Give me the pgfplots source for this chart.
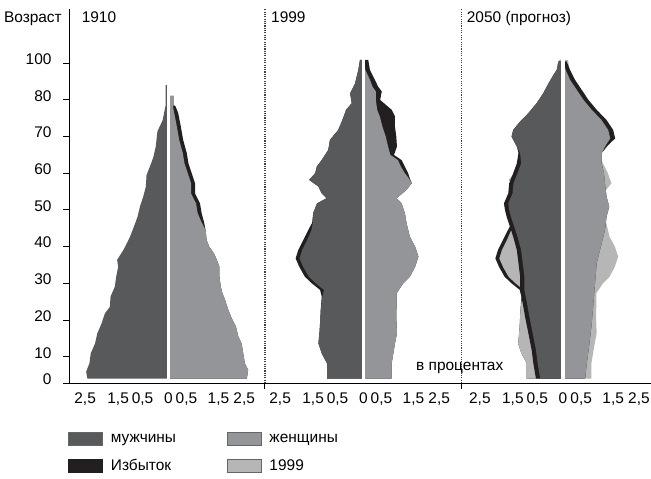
\documentclass[border=0pt]{standalone}
\usepackage{fontspec}
\setmainfont{Liberation Sans}
\usepackage{pgfplots}
\usepackage{pgfplotstable}
\pgfplotsset{compat=1.18}
\definecolor{male}{RGB}{88,89,91}
\definecolor{female}{RGB}{147,149,152}
\definecolor{surplus}{RGB}{35,31,32}
\definecolor{old}{RGB}{182,182,182}
\newcommand{\fs}{\fontsize{15.5}{18}\selectfont}

% 1910 men (share of population, %, by age position)
\pgfplotstableread{
a o
4.0 0
4.0 2.45
5.9 2.49
8.2 2.39
10.9 2.35
13.6 2.22
16.4 2.15
19.1 2.02
21.8 1.92
23.6 1.77
26.4 1.75
29.1 1.62
31.8 1.58
34.5 1.52
36.4 1.55
39.1 1.36
40.9 1.26
42.7 1.16
45.5 1.04
48.2 0.93
50.9 0.86
53.6 0.76
56.4 0.68
59.5 0.66
62.7 0.52
64.5 0.45
67.3 0.38
71.4 0.33
74.5 0.17
78.2 0.09
78.3 0.08
84.1 0.08
84.1 0
}\mA
% 1910 women: o = outer (with surplus), i = inner
\pgfplotstableread{
a o i
4.0 0 0
4.0 2.38 2.38
6.4 2.42 2.42
8.2 2.32 2.32
10.9 2.27 2.27
13.6 2.22 2.22
15.5 2.12 2.12
18.2 2.05 2.05
20.5 1.92 1.92
22.7 1.82 1.82
25.5 1.72 1.72
27.3 1.64 1.64
29.1 1.59 1.59
31.8 1.55 1.55
34.5 1.55 1.55
36.4 1.47 1.47
38.2 1.38 1.38
40.0 1.24 1.24
41.8 1.16 1.16
44.5 1.13 1.13
46.8 1.08 1.00
49.1 1.01 0.89
51.8 0.96 0.84
54.5 0.81 0.69
57.3 0.81 0.69
60.0 0.71 0.59
62.7 0.61 0.49
65.5 0.56 0.44
69.1 0.45 0.33
72.7 0.38 0.26
76.4 0.30 0.18
78.2 0.22 0.14
78.6 0.17 0.17
81.1 0.17 0.17
81.1 0 0
}\fA
% 1999 men
\pgfplotstableread{
a o i
4.0 0 0
4.0 1.10 1.10
8.2 1.10 1.10
10.9 1.26 1.26
13.6 1.36 1.36
16.4 1.33 1.33
19.1 1.31 1.31
22.7 1.29 1.29
26.4 1.26 1.24
28.2 1.31 1.19
30.0 1.56 1.44
31.8 1.77 1.65
34.5 1.94 1.82
36.8 2.05 1.93
39.1 1.97 1.85
41.8 1.82 1.70
44.5 1.67 1.57
46.5 1.55 1.53
49.1 1.52 1.52
51.8 1.40 1.40
53.2 1.11 1.11
54.5 1.26 1.26
56.4 1.36 1.36
58.2 1.64 1.64
60.0 1.46 1.46
61.8 1.41 1.41
63.6 1.26 1.26
66.4 1.06 1.06
69.1 1.01 1.01
71.8 0.76 0.76
74.6 0.63 0.63
77.3 0.52 0.52
79.1 0.35 0.35
81.8 0.40 0.40
84.5 0.25 0.25
88.2 0.15 0.15
90.9 0.10 0.10
90.9 0 0
}\mB
% 1999 women
\pgfplotstableread{
a o i
4.0 0 0
4.0 0.86 0.86
8.2 0.86 0.86
10.9 0.91 0.91
13.6 0.96 0.96
16.4 1.02 1.02
20.9 1.00 1.00
24.5 1.01 1.01
27.3 1.01 1.01
30.0 1.21 1.21
31.8 1.41 1.41
34.5 1.57 1.57
37.3 1.67 1.67
40.0 1.57 1.57
42.7 1.41 1.41
46.4 1.31 1.31
49.1 1.26 1.26
51.8 1.16 1.16
53.2 1.01 1.01
55.5 1.31 1.31
57.3 1.47 1.47
58.6 1.41 1.38
60.0 1.36 1.26
61.8 1.26 1.14
63.6 1.16 1.05
65.0 0.93 0.82
67.3 1.02 0.75
70.0 1.00 0.68
72.7 0.96 0.58
75.5 0.96 0.50
77.3 0.86 0.42
80.0 0.51 0.38
82.3 0.56 0.38
83.6 0.45 0.28
85.5 0.35 0.20
88.2 0.20 0.06
90.9 0.15 0.03
90.9 0 0
}\fB
% 2050 men
\pgfplotstableread{
a o i
4.0 0 0
4.0 0.82 0.69
8.2 0.90 0.77
11.8 0.95 0.82
16.4 1.05 0.92
20.9 1.15 1.02
24.5 1.22 1.09
28.2 1.30 1.17
31.8 1.30 1.17
35.5 1.35 1.22
39.1 1.40 1.27
42.7 1.51 1.38
45.5 1.61 1.48
48.2 1.71 1.58
50.0 1.76 1.63
51.8 1.79 1.66
54.5 1.66 1.53
57.3 1.63 1.50
60.0 1.51 1.38
62.7 1.40 1.27
65.5 1.35 1.30
67.3 1.40 1.40
70.0 1.56 1.56
71.8 1.51 1.51
74.1 1.30 1.30
76.4 1.05 1.05
79.1 0.80 0.80
81.8 0.60 0.60
84.5 0.44 0.44
86.8 0.29 0.29
88.2 0.19 0.19
90.5 0.14 0.14
90.5 0 0
}\mC
% 2050 women
\pgfplotstableread{
a o i
4.0 0 0
4.0 0.67 0.67
8.2 0.72 0.72
13.6 0.80 0.80
19.1 0.87 0.87
24.5 0.92 0.92
30.0 0.97 0.97
35.5 1.02 1.02
40.9 1.17 1.17
44.5 1.27 1.27
48.2 1.32 1.32
50.9 1.40 1.40
53.6 1.32 1.32
57.3 1.27 1.27
60.0 1.24 1.24
62.7 1.17 1.17
65.5 1.17 1.17
67.7 1.37 1.30
69.5 1.58 1.43
71.8 1.52 1.37
74.5 1.32 1.17
77.3 1.02 0.87
80.0 0.77 0.62
82.7 0.57 0.42
85.5 0.36 0.21
88.2 0.21 0.08
90.5 0.11 0.02
90.5 0 0
}\fC

\begin{document}
\begin{tikzpicture}
\path[use as bounding box] (0,0) rectangle (651bp,479bp);
\begin{axis}[
  at={(69bp,96bp)}, anchor=south west,
  scale only axis, width=582bp, height=373.7bp,
  xmin=-3.009, xmax=14.627, ymin=2.83, ymax=104.7,
  enlargelimits=false, clip=false,
  axis lines*=left,
  axis line style={line width=1bp, black},
  xtick={-2.52,-1.52,-0.78,0,0.55,1.52,2.30,
         3.389,4.389,5.129,5.909,6.459,7.429,8.209,
         9.441,10.441,11.181,11.961,12.511,13.481,14.261},
  xticklabels={{2,5},{1,5},{0,5},0,{0,5},{1,5},{2,5},
               {2,5},{1,5},{0,5},0,{0,5},{1,5},{2,5},
               {2,5},{1,5},{0,5},0,{0,5},{1,5},{2,5}},
  ytick={2.83,10,20,30,40,50,60,70,80,90},
  yticklabels={0,10,20,30,40,50,60,70,80,100},
  xtick style={draw=none},
  ytick style={line width=1bp, black},
  tick align=outside, major tick length=6bp,
  ticklabel style={font=\fs},
  yticklabel style={yshift=4bp, xshift=-8bp},
  legend columns=2, legend cell align=left,
  legend image code/.code={\draw[#1, line width=0.6bp] (0bp,-6.5bp) rectangle (34bp,6.5bp);},
  legend style={draw=none, fill=none, inner sep=0pt, outer sep=0pt,
    at={(-0.0012,-0.1303)}, anchor=north west, row sep=14bp,
    nodes={inner sep=0pt, text width=116bp, text height=10.5bp, text depth=2.5bp, font=\fs},
    /tikz/every odd column/.append style={column sep=8bp}},
]
\addlegendimage{fill=male, draw=black!60}\addlegendentry{мужчины}
\addlegendimage{fill=female, draw=black!60}\addlegendentry{женщины}
\addlegendimage{fill=surplus, draw=surplus}\addlegendentry{Избыток}
\addlegendimage{fill=old, draw=black!60}\addlegendentry{1999}

% ---- 1910
\addplot[fill=male, draw=none, forget plot] table[x expr=-\thisrow{o}, y=a] {\mA};
\addplot[fill=surplus, draw=none, forget plot] table[x expr=\thisrow{o}, y=a] {\fA};
\addplot[fill=female, draw=none, forget plot] table[x expr=\thisrow{i}, y=a] {\fA};
\addplot[white, line width=3.4bp, forget plot] coordinates {(0,4) (0,86)};

% ---- 1999
\addplot[fill=surplus, draw=none, forget plot] table[x expr=-\thisrow{o}+5.909, y=a] {\mB};
\addplot[fill=male, draw=none, forget plot] table[x expr=-\thisrow{i}+5.909, y=a] {\mB};
\addplot[fill=surplus, draw=none, forget plot] table[x expr=\thisrow{o}+5.909, y=a] {\fB};
\addplot[fill=female, draw=none, forget plot] table[x expr=\thisrow{i}+5.909, y=a] {\fB};
\addplot[white, line width=3.4bp, forget plot] coordinates {(5.909,4) (5.909,92)};

% ---- 2050 with 1999 behind
\addplot[fill=surplus, draw=none, forget plot] table[x expr=-\thisrow{o}+11.961, y=a] {\mB};
\addplot[fill=old, draw=none, forget plot] table[x expr=-\thisrow{i}+11.961, y=a] {\mB};
\addplot[fill=old, draw=none, forget plot] table[x expr=\thisrow{o}+11.961, y=a] {\fB};
\addplot[fill=surplus, draw=none, forget plot] table[x expr=-\thisrow{o}+11.961, y=a] {\mC};
\addplot[fill=male, draw=none, forget plot] table[x expr=-\thisrow{i}+11.961, y=a] {\mC};
\addplot[fill=surplus, draw=none, forget plot] table[x expr=\thisrow{o}+11.961, y=a] {\fC};
\addplot[fill=female, draw=none, forget plot] table[x expr=\thisrow{i}+11.961, y=a] {\fC};
\addplot[white, line width=3.4bp, forget plot] coordinates {(11.961,4) (11.961,92)};

% separators
\draw[black!75, line width=1.1bp, dash pattern=on 1.1bp off 1.2bp] (axis cs:2.93,2.83) -- (axis cs:2.93,104.9);
\draw[black!75, line width=1.1bp, dash pattern=on 1.1bp off 1.2bp] (axis cs:8.89,2.83) -- (axis cs:8.89,104.9);
\draw[black, line width=1bp] (axis cs:2.93,2.83) -- ++(0bp,-6bp);
\draw[black, line width=1bp] (axis cs:8.89,2.83) -- ++(0bp,-6bp);
\end{axis}
\node[anchor=base east, inner sep=0pt, font=\fs] at (62bp,456.5bp) {Возраст};
\node[anchor=base west, inner sep=0pt, font=\fs] at (81.6bp,456.5bp) {1910};
\node[anchor=base west, inner sep=0pt, font=\fs] at (271bp,456.5bp) {1999};
\node[anchor=base west, inner sep=0pt, font=\fs] at (466.7bp,456.5bp) {2050 (прогноз)};
\node[anchor=base west, inner sep=0pt, font=\fs] at (416bp,108.3bp) {в процентах};
\end{tikzpicture}
\end{document}
